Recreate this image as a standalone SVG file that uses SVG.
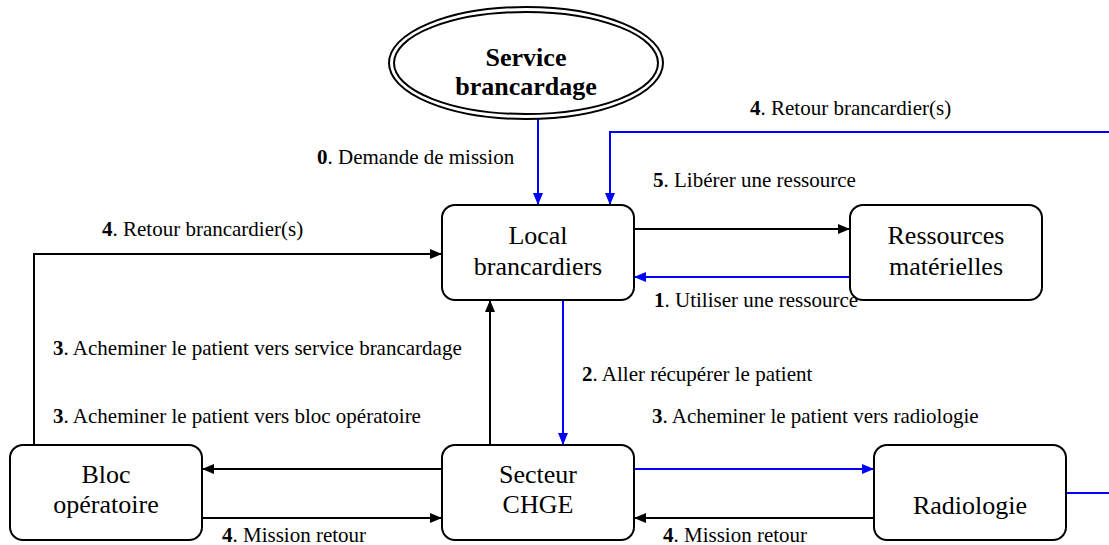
<svg xmlns="http://www.w3.org/2000/svg" width="1109" height="545" viewBox="0 0 1109 545">
<defs>
<style>
.box{fill:#fff;stroke:#000;stroke-width:2}
.nt{font-family:"Liberation Serif","Times New Roman",serif;font-size:26px;fill:#000;text-anchor:middle}
.lb{font-family:"Liberation Serif","Times New Roman",serif;font-size:21px;fill:#000}
.k{stroke:#000;stroke-width:2;fill:none}
.b{stroke:#0000ff;stroke-width:2;fill:none}
</style>
<marker id="ak" viewBox="0 0 12 10" refX="12" refY="5" markerWidth="12" markerHeight="10" markerUnits="userSpaceOnUse" orient="auto"><path d="M0,0 L12,5 L0,10 Z" fill="#000"/></marker>
<marker id="ab" viewBox="0 0 12 10" refX="12" refY="5" markerWidth="12" markerHeight="10" markerUnits="userSpaceOnUse" orient="auto"><path d="M0,0 L12,5 L0,10 Z" fill="#0000ff"/></marker>
</defs>
<rect width="1109" height="545" fill="#fff"/>
<g id="connectors">
<path class="b" d="M538,118 V205" marker-end="url(#ab)"/>
<path class="b" d="M1109,132 H610 V205" marker-end="url(#ab)"/>
<path class="k" d="M634,229 H850" marker-end="url(#ak)"/>
<path class="b" d="M850,277 H634" marker-end="url(#ab)"/>
<path class="k" d="M34,445 V254 H442" marker-end="url(#ak)"/>
<path class="k" d="M490,445 V300" marker-end="url(#ak)"/>
<path class="b" d="M563,300 V445" marker-end="url(#ab)"/>
<path class="k" d="M442,469 H202" marker-end="url(#ak)"/>
<path class="k" d="M202,518 H442" marker-end="url(#ak)"/>
<path class="b" d="M634,469 H874" marker-end="url(#ab)"/>
<path class="k" d="M874,518 H634" marker-end="url(#ak)"/>
<path class="b" d="M1066,493 H1109"/>
</g>
<g id="labels">
<text class="lb" x="317" y="164"><tspan font-weight="bold">0</tspan>. Demande de mission</text>
<text class="lb" x="750" y="115"><tspan font-weight="bold">4</tspan>. Retour brancardier(s)</text>
<text class="lb" x="653" y="187"><tspan font-weight="bold">5</tspan>. Libérer une ressource</text>
<text class="lb" x="102" y="236"><tspan font-weight="bold">4</tspan>. Retour brancardier(s)</text>
<text class="lb" x="654" y="307"><tspan font-weight="bold">1</tspan>. Utiliser une ressource</text>
<text class="lb" x="53" y="355"><tspan font-weight="bold">3</tspan>. Acheminer le patient vers service brancardage</text>
<text class="lb" x="582" y="381"><tspan font-weight="bold">2</tspan>. Aller récupérer le patient</text>
<text class="lb" x="53" y="423"><tspan font-weight="bold">3</tspan>. Acheminer le patient vers bloc opératoire</text>
<text class="lb" x="652" y="423"><tspan font-weight="bold">3</tspan>. Acheminer le patient vers radiologie</text>
<text class="lb" x="222" y="542"><tspan font-weight="bold">4</tspan>. Mission retour</text>
<text class="lb" x="663" y="542"><tspan font-weight="bold">4</tspan>. Mission retour</text>
</g>
<g id="service">
<ellipse cx="526" cy="63" rx="137" ry="56" fill="#fff" stroke="#000" stroke-width="2"/>
<ellipse cx="526" cy="63" rx="132" ry="51" fill="none" stroke="#000" stroke-width="2"/>
<text class="nt" x="526" y="66" font-weight="bold">Service</text>
<text class="nt" x="526" y="95" font-weight="bold">brancardage</text>
</g>
<g id="local">
<rect class="box" x="442" y="205" width="192" height="95" rx="13"/>
<text class="nt" x="538" y="244">Local</text>
<text class="nt" x="538" y="275">brancardiers</text>
</g>
<g id="ressources">
<rect class="box" x="850" y="205" width="192" height="95" rx="13"/>
<text class="nt" x="946" y="244">Ressources</text>
<text class="nt" x="946" y="275">matérielles</text>
</g>
<g id="bloc">
<rect class="box" x="10" y="445" width="192" height="95" rx="13"/>
<text class="nt" x="106" y="483">Bloc</text>
<text class="nt" x="106" y="513">opératoire</text>
</g>
<g id="secteur">
<rect class="box" x="442" y="445" width="192" height="95" rx="13"/>
<text class="nt" x="538" y="483">Secteur</text>
<text class="nt" x="538" y="513">CHGE</text>
</g>
<g id="radiologie">
<rect class="box" x="874" y="445" width="192" height="95" rx="13"/>
<text class="nt" x="970" y="514">Radiologie</text>
</g>
</svg>
